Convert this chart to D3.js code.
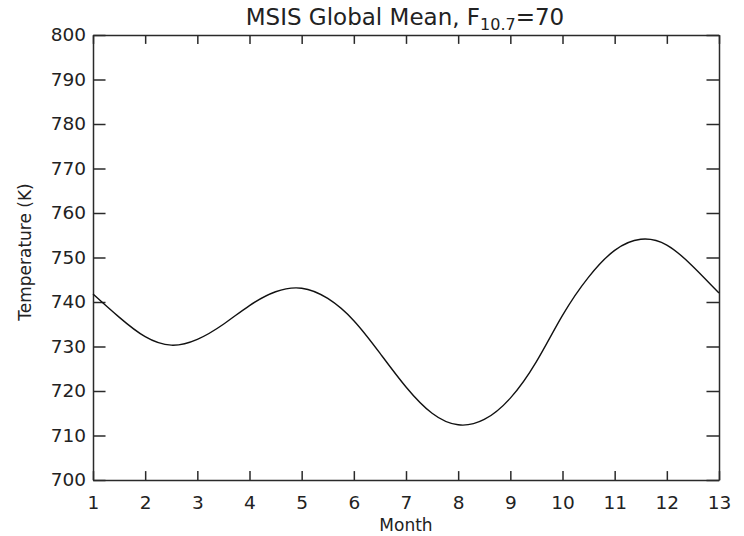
<!DOCTYPE html>
<html>
<head>
<meta charset="utf-8">
<script src="https://cdn.jsdelivr.net/npm/d3@7.9.0/dist/d3.min.js"></script>
<style>
  body { margin: 0; background: #fff; }
  svg text { font-family: "DejaVu Sans", sans-serif; fill: #222; }
  .axis path, .axis line { stroke: #2a2a2a; stroke-width: 1.5; }
</style>
</head>
<body>
<svg id="chart" width="744" height="536"></svg>
<script>
// values (every half month)
const months = [1, 1.5, 2, 2.5, 3, 3.5, 4, 4.5, 5, 5.5, 6, 6.5, 7, 7.5, 8, 8.5,
  9, 9.5, 10, 10.5, 11, 11.5, 12, 12.5, 13];
const temps = [741.8, 736.6, 732.2, 730.3, 731.6, 735.0, 739.2, 742.3, 743.1, 740.8, 735.8, 728.5, 720.9, 715.0, 712.4, 713.6,
  718.4, 726.6, 737.0, 745.6, 751.6, 754.1, 752.8, 748.0, 742.0];
const monthTicks = d3.range(1, 14);
const tempTicks = d3.range(700, 801, 10);

const margin = { top: 35, right: 25, bottom: 56, left: 93 };
const width = 744, height = 536;
const svg = d3.select('#chart');

const x = d3.scaleLinear().domain([1, 13]).range([margin.left, width - margin.right]);
const y = d3.scaleLinear().domain([700, 800]).range([height - margin.bottom, margin.top]);

const plotW = x.range()[1] - x.range()[0];
const plotH = y.range()[0] - y.range()[1];
const xTickLen = plotH * 0.02;
const yTickLen = plotW * 0.02;

// bottom axis with labels
const bottom = svg.append('g')
  .attr('class', 'axis')
  .attr('transform', `translate(0,${y(700)})`)
  .call(d3.axisBottom(x).tickValues(monthTicks).tickSize(-xTickLen).tickSizeOuter(0).tickPadding(16));
bottom.selectAll('text').attr('font-size', 18.5);

svg.append('g')
  .attr('class', 'axis')
  .attr('transform', `translate(0,${y(800)})`)
  .call(d3.axisTop(x).tickValues(monthTicks).tickSize(-xTickLen).tickSizeOuter(0).tickFormat(''));

const left = svg.append('g')
  .attr('class', 'axis')
  .attr('transform', `translate(${x(1)},0)`)
  .call(d3.axisLeft(y).tickValues(tempTicks).tickSize(-yTickLen).tickSizeOuter(0).tickPadding(7));
left.selectAll('text').attr('font-size', 18.5);

svg.append('g')
  .attr('class', 'axis')
  .attr('transform', `translate(${x(13)},0)`)
  .call(d3.axisRight(y).tickValues(tempTicks).tickSize(-yTickLen).tickSizeOuter(0).tickFormat(''));

svg.selectAll('.axis .tick text').attr('fill', '#222').attr('font-family', '"DejaVu Sans", sans-serif');

// curve
const line = d3.line()
  .x((d, i) => x(months[i]))
  .y((d) => y(d))
  .curve(d3.curveNatural);

svg.append('path')
  .datum(temps)
  .attr('d', line)
  .attr('fill', 'none')
  .attr('stroke', '#111')
  .attr('stroke-width', 1.4);

// title
const title = svg.append('text')
  .attr('x', 405)
  .attr('y', 25)
  .attr('text-anchor', 'middle')
  .attr('font-size', 23);
title.append('tspan').text('MSIS Global Mean, F');
title.append('tspan').attr('font-size', 16).attr('dy', 5).text('10.7');
title.append('tspan').attr('dy', -5).text('=70');

// axis titles
svg.append('text')
  .attr('x', (x(1) + x(13)) / 2)
  .attr('y', 531)
  .attr('text-anchor', 'middle')
  .attr('font-size', 17)
  .text('Month');

svg.append('text')
  .attr('transform', `translate(31,252) rotate(-90)`)
  .attr('text-anchor', 'middle')
  .attr('font-size', 17)
  .text('Temperature (K)');
</script>
</body>
</html>
